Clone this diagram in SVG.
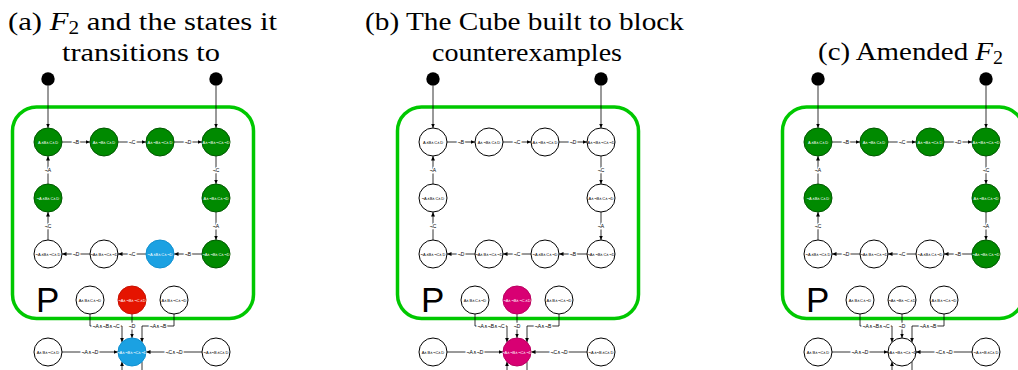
<svg xmlns="http://www.w3.org/2000/svg" width="1018" height="370" viewBox="0 0 1018 370">
<style>
.t{font-family:"Liberation Serif","Times New Roman",serif;font-size:26px;fill:#000}
.n{stroke:#000;stroke-width:1;fill:#fff}
.g{fill:#008a00;stroke:#005700;stroke-width:1}
.b{fill:#1ba1e2;stroke:#1090d0;stroke-width:1}
.r{fill:#e51400;stroke:#c81000;stroke-width:1}
.m{fill:#d80073;stroke:#b80060;stroke-width:1}
.nl{font-family:"Liberation Sans",Arial,sans-serif;font-size:4px;text-anchor:middle;dominant-baseline:central;fill:#000}
.wl{fill:#fff}
.e{stroke:#000;stroke-width:0.8;fill:none}
.a{marker-end:url(#ar)}
.el{font-family:"Liberation Sans",Arial,sans-serif;font-size:5px;text-anchor:middle;dominant-baseline:central;fill:#000;stroke:#fff;stroke-width:2.5;paint-order:stroke}
.box{fill:none;stroke:#00c800;stroke-width:3.5}
.dot{fill:#000}
.P{font-family:"Liberation Sans",Arial,sans-serif;font-size:35px;fill:#000}
</style>
<defs>
<marker id="ar" markerUnits="userSpaceOnUse" markerWidth="5" markerHeight="5" refX="4.5" refY="2" orient="auto">
<path d="M0,0 L4.5,2 L0,4 Z" fill="#000"/>
</marker>
<g id="edges">
<line class="e a" x1="48" y1="86" x2="48" y2="128"/>
<line class="e a" x1="216" y1="86" x2="216" y2="128"/>
<line class="e a" x1="62" y1="142" x2="90" y2="142"/>
<line class="e a" x1="118" y1="142" x2="146" y2="142"/>
<line class="e a" x1="174" y1="142" x2="202" y2="142"/>
<line class="e a" x1="216" y1="156" x2="216" y2="184"/>
<line class="e a" x1="216" y1="212" x2="216" y2="240"/>
<line class="e a" x1="202" y1="254" x2="174" y2="254"/>
<line class="e a" x1="146" y1="254" x2="118" y2="254"/>
<line class="e a" x1="90" y1="254" x2="62" y2="254"/>
<line class="e a" x1="48" y1="240" x2="48" y2="212"/>
<line class="e a" x1="48" y1="184" x2="48" y2="156"/>
<path class="e a" d="M90,314 V326 H122 V342.2"/>
<path class="e a" d="M132,314 V338"/>
<path class="e a" d="M174,314 V326 H142 V342.2"/>
<line class="e a" x1="62" y1="352" x2="118" y2="352"/>
<line class="e a" x1="202" y1="352" x2="146" y2="352"/>
<line class="e a" x1="122" y1="372" x2="122" y2="361.8"/>
<line class="e" x1="142" y1="361.8" x2="142" y2="372"/>
<text class="el" x="76" y="142">¬B</text>
<text class="el" x="132" y="142">¬C</text>
<text class="el" x="188" y="142">¬D</text>
<text class="el" x="216" y="170">¬C</text>
<text class="el" x="216" y="226">¬A</text>
<text class="el" x="188" y="254">¬B</text>
<text class="el" x="132" y="254">¬C</text>
<text class="el" x="76" y="254">¬D</text>
<text class="el" x="48" y="226">¬C</text>
<text class="el" x="48" y="170">¬A</text>
<text class="el" x="106" y="326">¬A∧¬B∧¬C</text>
<text class="el" x="132" y="326">¬D</text>
<text class="el" x="158" y="326">¬A∧¬B</text>
<text class="el" x="90" y="352">¬A∧¬D</text>
<text class="el" x="174" y="352">¬C∧¬D</text>
</g>
</defs>

<g id="titles">
<text class="t" x="8" y="29.5" textLength="269" lengthAdjust="spacingAndGlyphs">(a) <tspan font-style="italic">F</tspan><tspan font-size="18" dy="4">2</tspan><tspan dy="-4"> and the states it</tspan></text>
<text class="t" x="62" y="61" textLength="158" lengthAdjust="spacingAndGlyphs">transitions to</text>
<text class="t" x="365" y="29.5" textLength="319" lengthAdjust="spacingAndGlyphs">(b) The Cube built to block</text>
<text class="t" x="432" y="61" textLength="190" lengthAdjust="spacingAndGlyphs">counterexamples</text>
<text class="t" x="818" y="60" textLength="185" lengthAdjust="spacingAndGlyphs">(c) Amended <tspan font-style="italic">F</tspan><tspan font-size="18" dy="4">2</tspan></text>
</g>

<!-- Panel (a) -->
<g id="panel-a">
<g id="a-F2"><rect class="box" x="12.5" y="107" width="241" height="211.5" rx="24"/><text class="P" x="36" y="312">P</text></g>
<g id="a-connectors"><use href="#edges"/></g>
<g id="a-init1"><circle class="dot" cx="48" cy="79" r="6.7"/></g>
<g id="a-init2"><circle class="dot" cx="216" cy="79" r="6.7"/></g>
<g id="a-n1"><circle class="g" cx="48" cy="142" r="14"/><text class="nl wl" x="48" y="142">A∧B∧C∧D</text></g>
<g id="a-n2"><circle class="g" cx="104" cy="142" r="14"/><text class="nl wl" x="104" y="142">A∧¬B∧C∧D</text></g>
<g id="a-n3"><circle class="g" cx="160" cy="142" r="14"/><text class="nl wl" x="160" y="142">A∧¬B∧¬C∧D</text></g>
<g id="a-n4"><circle class="g" cx="216" cy="142" r="14"/><text class="nl wl" x="216" y="142">A∧¬B∧¬C∧¬D</text></g>
<g id="a-n5"><circle class="g" cx="48" cy="198" r="14"/><text class="nl wl" x="48" y="198">¬A∧B∧C∧D</text></g>
<g id="a-n6"><circle class="g" cx="216" cy="198" r="14"/><text class="nl wl" x="216" y="198">A∧¬B∧C∧¬D</text></g>
<g id="a-n7"><circle class="n" cx="48" cy="254" r="14"/><text class="nl" x="48" y="254">¬A∧B∧¬C∧D</text></g>
<g id="a-n8"><circle class="n" cx="104" cy="254" r="14"/><text class="nl" x="104" y="254">¬A∧B∧¬C∧¬D</text></g>
<g id="a-n9"><circle class="b" cx="160" cy="254" r="14"/><text class="nl wl" x="160" y="254">¬A∧B∧C∧¬D</text></g>
<g id="a-n10"><circle class="g" cx="216" cy="254" r="14"/><text class="nl wl" x="216" y="254">¬A∧¬B∧C∧¬D</text></g>
<g id="a-p1"><circle class="n" cx="90" cy="300" r="14"/><text class="nl" x="90" y="300">A∧B∧C∧¬D</text></g>
<g id="a-p2"><circle class="r" cx="132" cy="300" r="14"/><text class="nl wl" x="132" y="300">¬A∧¬B∧¬C∧D</text></g>
<g id="a-p3"><circle class="n" cx="174" cy="300" r="14"/><text class="nl" x="174" y="300">A∧B∧¬C∧¬D</text></g>
<g id="a-q1"><circle class="n" cx="48" cy="352" r="14"/><text class="nl" x="48" y="352">A∧B∧¬C∧D</text></g>
<g id="a-q2"><circle class="b" cx="132" cy="352" r="14"/><text class="nl wl" x="132" y="352">¬A∧¬B∧¬C∧¬D</text></g>
<g id="a-q3"><circle class="n" cx="216" cy="352" r="14"/><text class="nl" x="216" y="352">¬A∧¬B∧C∧D</text></g>
</g>

<!-- Panel (b) -->
<g id="panel-b" transform="translate(385,0)">
<g id="b-F2"><rect class="box" x="12.5" y="107" width="241" height="211.5" rx="24"/><text class="P" x="36" y="312">P</text></g>
<g id="b-connectors"><use href="#edges"/></g>
<g id="b-init1"><circle class="dot" cx="48" cy="79" r="6.7"/></g>
<g id="b-init2"><circle class="dot" cx="216" cy="79" r="6.7"/></g>
<g id="b-n1"><circle class="n" cx="48" cy="142" r="14"/><text class="nl" x="48" y="142">A∧B∧C∧D</text></g>
<g id="b-n2"><circle class="n" cx="104" cy="142" r="14"/><text class="nl" x="104" y="142">A∧¬B∧C∧D</text></g>
<g id="b-n3"><circle class="n" cx="160" cy="142" r="14"/><text class="nl" x="160" y="142">A∧¬B∧¬C∧D</text></g>
<g id="b-n4"><circle class="n" cx="216" cy="142" r="14"/><text class="nl" x="216" y="142">A∧¬B∧¬C∧¬D</text></g>
<g id="b-n5"><circle class="n" cx="48" cy="198" r="14"/><text class="nl" x="48" y="198">¬A∧B∧C∧D</text></g>
<g id="b-n6"><circle class="n" cx="216" cy="198" r="14"/><text class="nl" x="216" y="198">A∧¬B∧C∧¬D</text></g>
<g id="b-n7"><circle class="n" cx="48" cy="254" r="14"/><text class="nl" x="48" y="254">¬A∧B∧¬C∧D</text></g>
<g id="b-n8"><circle class="n" cx="104" cy="254" r="14"/><text class="nl" x="104" y="254">¬A∧B∧¬C∧¬D</text></g>
<g id="b-n9"><circle class="n" cx="160" cy="254" r="14"/><text class="nl" x="160" y="254">¬A∧B∧C∧¬D</text></g>
<g id="b-n10"><circle class="n" cx="216" cy="254" r="14"/><text class="nl" x="216" y="254">¬A∧¬B∧C∧¬D</text></g>
<g id="b-p1"><circle class="n" cx="90" cy="300" r="14"/><text class="nl" x="90" y="300">A∧B∧C∧¬D</text></g>
<g id="b-p2"><circle class="m" cx="132" cy="300" r="14"/><text class="nl wl" x="132" y="300">¬A∧¬B∧¬C∧D</text></g>
<g id="b-p3"><circle class="n" cx="174" cy="300" r="14"/><text class="nl" x="174" y="300">A∧B∧¬C∧¬D</text></g>
<g id="b-q1"><circle class="n" cx="48" cy="352" r="14"/><text class="nl" x="48" y="352">A∧B∧¬C∧D</text></g>
<g id="b-q2"><circle class="m" cx="132" cy="352" r="14"/><text class="nl wl" x="132" y="352">¬A∧¬B∧¬C∧¬D</text></g>
<g id="b-q3"><circle class="n" cx="216" cy="352" r="14"/><text class="nl" x="216" y="352">¬A∧¬B∧C∧D</text></g>
</g>

<!-- Panel (c) -->
<g id="panel-c" transform="translate(770,0)">
<g id="c-F2"><rect class="box" x="12.5" y="107" width="241" height="211.5" rx="24"/><text class="P" x="36" y="312">P</text></g>
<g id="c-connectors"><use href="#edges"/></g>
<g id="c-init1"><circle class="dot" cx="48" cy="79" r="6.7"/></g>
<g id="c-init2"><circle class="dot" cx="216" cy="79" r="6.7"/></g>
<g id="c-n1"><circle class="g" cx="48" cy="142" r="14"/><text class="nl wl" x="48" y="142">A∧B∧C∧D</text></g>
<g id="c-n2"><circle class="g" cx="104" cy="142" r="14"/><text class="nl wl" x="104" y="142">A∧¬B∧C∧D</text></g>
<g id="c-n3"><circle class="g" cx="160" cy="142" r="14"/><text class="nl wl" x="160" y="142">A∧¬B∧¬C∧D</text></g>
<g id="c-n4"><circle class="g" cx="216" cy="142" r="14"/><text class="nl wl" x="216" y="142">A∧¬B∧¬C∧¬D</text></g>
<g id="c-n5"><circle class="g" cx="48" cy="198" r="14"/><text class="nl wl" x="48" y="198">¬A∧B∧C∧D</text></g>
<g id="c-n6"><circle class="g" cx="216" cy="198" r="14"/><text class="nl wl" x="216" y="198">A∧¬B∧C∧¬D</text></g>
<g id="c-n7"><circle class="n" cx="48" cy="254" r="14"/><text class="nl" x="48" y="254">¬A∧B∧¬C∧D</text></g>
<g id="c-n8"><circle class="n" cx="104" cy="254" r="14"/><text class="nl" x="104" y="254">¬A∧B∧¬C∧¬D</text></g>
<g id="c-n9"><circle class="n" cx="160" cy="254" r="14"/><text class="nl" x="160" y="254">¬A∧B∧C∧¬D</text></g>
<g id="c-n10"><circle class="g" cx="216" cy="254" r="14"/><text class="nl wl" x="216" y="254">¬A∧¬B∧C∧¬D</text></g>
<g id="c-p1"><circle class="n" cx="90" cy="300" r="14"/><text class="nl" x="90" y="300">A∧B∧C∧¬D</text></g>
<g id="c-p2"><circle class="n" cx="132" cy="300" r="14"/><text class="nl" x="132" y="300">¬A∧¬B∧¬C∧D</text></g>
<g id="c-p3"><circle class="n" cx="174" cy="300" r="14"/><text class="nl" x="174" y="300">A∧B∧¬C∧¬D</text></g>
<g id="c-q1"><circle class="n" cx="48" cy="352" r="14"/><text class="nl" x="48" y="352">A∧B∧¬C∧D</text></g>
<g id="c-q2"><circle class="n" cx="132" cy="352" r="14"/><text class="nl" x="132" y="352">¬A∧¬B∧¬C∧¬D</text></g>
<g id="c-q3"><circle class="n" cx="216" cy="352" r="14"/><text class="nl" x="216" y="352">¬A∧¬B∧C∧D</text></g>
</g>
</svg>
